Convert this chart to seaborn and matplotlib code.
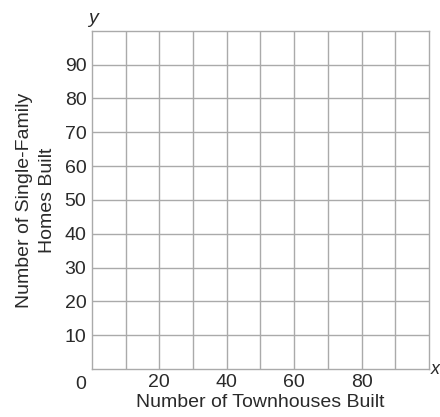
import matplotlib
matplotlib.use("Agg")
import matplotlib.pyplot as plt
import seaborn as sns

# grid / tick values
grid_x = [10, 20, 30, 40, 50, 60, 70, 80, 90]
grid_y = [10, 20, 30, 40, 50, 60, 70, 80, 90]
x_labels = ["", "20", "", "40", "", "60", "", "80", ""]
y_labels = ["10", "20", "30", "40", "50", "60", "70", "80", "90"]
x_max, y_max = 100, 100

sns.set_style("white")
plt.rcParams['font.family'] = ['Liberation Sans', 'DejaVu Sans']

fs = 14
txt = "#2a2a2a"

fig = plt.figure(figsize=(4.4, 4.17), dpi=100)
ax = fig.add_axes([0.209, 0.115, 0.766, 0.811])

ax.set_xlim(0, x_max)
ax.set_ylim(0, y_max)
ax.set_xticks(grid_x)
ax.set_xticklabels(x_labels)
ax.set_yticks(grid_y)
ax.set_yticklabels(y_labels)
ax.tick_params(length=0, labelsize=fs, colors=txt)
ax.tick_params(axis="y", pad=4)
ax.tick_params(axis="x", pad=3.5)
ax.grid(True, color="#aaaaaa", linewidth=1)
for s in ax.spines.values():
    s.set_color("#aaaaaa")
    s.set_linewidth(1)

# origin and axis letters
ax.text(-3.2, -2.2, "0", ha="center", va="top", fontsize=fs, color=txt)
ax.text(-1.0, 101.0, "y", ha="left", va="bottom", fontsize=fs, style="italic", color=txt)
ax.text(100.6, 0, "x", ha="left", va="center", fontsize=fs - 1, style="italic", color=txt)

ax.set_xlabel("Number of Townhouses Built", fontsize=fs, color=txt, labelpad=2)
ax.set_ylabel("Number of Single-Family\nHomes Built", fontsize=fs, color=txt,
              labelpad=6, linespacing=1.5)

fig.savefig("out.png", dpi=100)
